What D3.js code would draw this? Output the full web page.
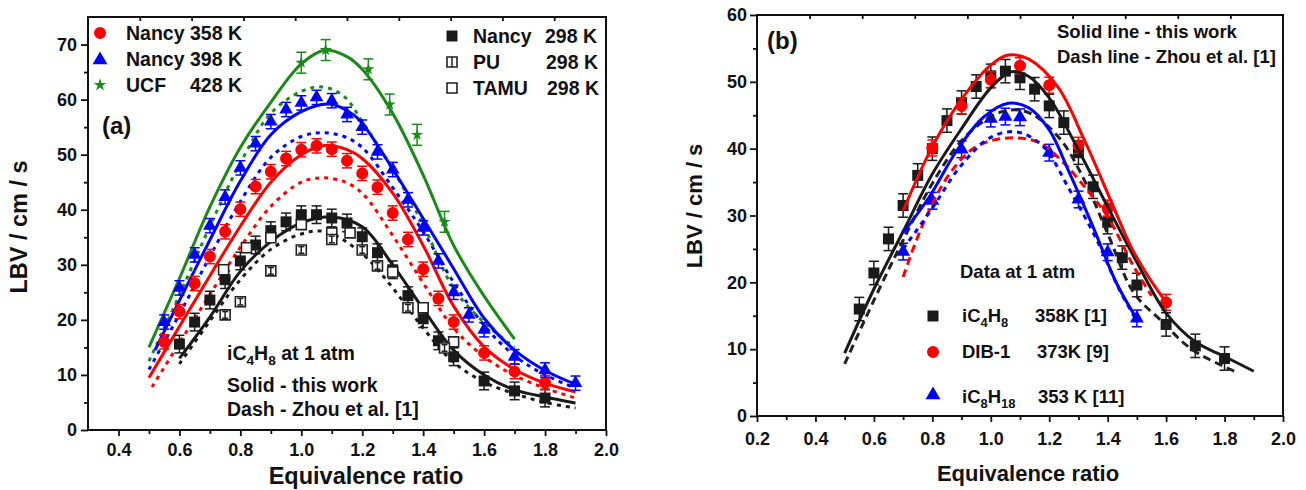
<!doctype html>
<html>
<head>
<meta charset="utf-8">
<title>LBV vs equivalence ratio</title>
<script src="https://cdn.jsdelivr.net/npm/d3@7"></script>
<style>
  body { margin: 0; background: #fff; }
  svg text { font-family: "Liberation Sans", Arial, sans-serif; font-weight: bold; fill: #111; }
  .axis text { font-size: 18px; }
  .axis line { stroke: #111; stroke-width: 1.8; }
  .axis .domain { display: none; }
</style>
</head>
<body>
<svg id="chart" width="1306" height="490"></svg>
<script>
// ---------- panel (a) : measured points [phi, LBV] ----------
var nancy358 = [[0.55,16],[0.6,21.5],[0.65,26.6],[0.7,31.5],[0.75,36],[0.8,40.1],[0.85,44.2],[0.9,46.9],[0.95,49.3],[1.0,50.9],[1.05,51.6],[1.1,51],[1.15,48.9],[1.2,46.6],[1.25,44.1],[1.3,39.4],[1.35,34.6],[1.4,29.2],[1.45,23.9],[1.5,19.6],[1.6,14],[1.7,10.6],[1.8,8.6]];
var nancy398 = [[0.55,19.6],[0.6,25.8],[0.65,31.8],[0.7,37.1],[0.75,42.3],[0.8,47.6],[0.85,52],[0.9,56],[0.95,58.2],[1.0,59.4],[1.05,60.4],[1.1,59.8],[1.15,57.3],[1.2,55],[1.25,50.5],[1.3,47.3],[1.35,41.8],[1.4,36.7],[1.45,30.7],[1.5,25],[1.55,20.9],[1.6,18.2],[1.7,13.3],[1.8,10.9],[1.9,8.5]];
var ucf428 = [[1.0,66.7],[1.08,69],[1.22,65.5],[1.29,59.1],[1.38,53.6],[1.47,37.8]];
var nancy298 = [[0.6,15.6],[0.65,19.6],[0.7,23.6],[0.75,27.3],[0.8,30.7],[0.85,33.6],[0.9,36.2],[0.95,37.8],[1.0,39.1],[1.05,39.1],[1.1,38.5],[1.15,37.6],[1.2,35.1],[1.25,32.2],[1.3,29.1],[1.35,24.4],[1.4,20.2],[1.45,16.2],[1.5,13.3],[1.6,8.9],[1.7,7.1],[1.8,5.8]];
var pu298 = [[0.75,20.9],[0.8,23.3],[0.9,28.9],[1.0,32.7],[1.1,34.6],[1.2,32.7],[1.25,29.8],[1.35,22.2],[1.47,14.9]];
var tamu298 = [[0.745,29.1],[0.82,33.1],[0.9,34.9],[1.0,37.3],[1.1,35.8],[1.16,35.8],[1.3,28.7],[1.4,22.2],[1.5,16]];

// panel (a) : model curves (solid = this work, dotted = Zhou et al.)
var fit358 = [[0.5,9.5],[0.6,18.8],[0.7,28],[0.8,37],[0.9,45],[1.0,50],[1.08,51.7],[1.15,50.9],[1.2,49.3],[1.3,43],[1.4,33.5],[1.5,22.5],[1.6,15.1],[1.7,11],[1.8,8.5],[1.9,6.9]];
var zhou358 = [[0.51,7.8],[0.6,15.8],[0.7,24.6],[0.8,33.2],[0.9,40.6],[1.0,45],[1.07,45.8],[1.14,45.1],[1.2,43],[1.3,35.3],[1.4,26.7],[1.5,18.5],[1.6,13.3],[1.7,9.9],[1.8,7.6],[1.9,5.8]];
var fit398 = [[0.52,14.5],[0.6,23.5],[0.7,34.5],[0.8,45.2],[0.9,53.6],[1.0,57.8],[1.09,59.2],[1.17,57.3],[1.2,55.7],[1.3,47.4],[1.4,38.4],[1.5,29.3],[1.6,20.3],[1.7,14.5],[1.8,10.8],[1.9,8.3]];
var zhou398 = [[0.5,11],[0.6,21],[0.7,31.5],[0.8,41.5],[0.9,49.5],[1.0,53.3],[1.07,54],[1.14,53.3],[1.2,51.3],[1.3,44],[1.4,36],[1.5,26.8],[1.6,19],[1.7,13.5],[1.8,10],[1.9,7.6]];
var fit428 = [[0.5,15],[0.6,27.5],[0.7,40.5],[0.8,51.3],[0.9,59.5],[1.0,66.5],[1.08,69],[1.15,67.8],[1.2,65.5],[1.3,57.5],[1.4,46.3],[1.5,33.5],[1.6,24.3],[1.7,16.5]];
var zhou428 = [[0.5,12.5],[0.6,24.5],[0.7,37],[0.8,48.5],[0.9,57.5],[1.0,61.5],[1.07,62.3],[1.14,60.6],[1.2,56],[1.3,47.3],[1.4,37.3],[1.5,25.7],[1.6,19.5],[1.7,15]];
var fit298 = [[0.6,13],[0.7,20.5],[0.8,28.8],[0.9,34.2],[1.0,37.6],[1.1,38.7],[1.2,36.9],[1.3,30],[1.4,22],[1.5,14.5],[1.6,10],[1.7,7.3],[1.8,6],[1.9,4.9]];
var zhou298 = [[0.6,12],[0.7,19.8],[0.8,27.3],[0.9,32.8],[1.0,35.6],[1.08,36],[1.2,32],[1.3,25.8],[1.4,18.5],[1.5,12.3],[1.6,8.7],[1.7,6.6],[1.8,5],[1.9,4]];

// ---------- panel (b) ----------
var ic4h8_358 = [[0.55,16],[0.6,21.4],[0.65,26.5],[0.7,31.5],[0.75,36],[0.8,40],[0.85,44.2],[0.9,46.9],[0.95,49.3],[1.0,50.9],[1.05,51.6],[1.1,50.6],[1.15,48.9],[1.2,46.4],[1.25,43.9],[1.3,39.4],[1.35,34.3],[1.4,29],[1.45,23.7],[1.5,19.6],[1.6,13.7],[1.7,10.5],[1.8,8.6]];
var dib1_373 = [[0.8,40.1],[0.9,46.4],[1.0,50.3],[1.1,52.4],[1.2,49.5],[1.3,40.5],[1.4,31.1],[1.6,17]];
var ic8h18_353 = [[0.7,24.6],[0.8,32.2],[0.9,39.9],[1.0,44.5],[1.05,44.8],[1.1,44.7],[1.2,39.4],[1.3,32.4],[1.4,24.5],[1.5,14.6]];

var fitB_ic4h8 = [[0.5,9.4],[0.6,19],[0.7,27.6],[0.8,36.2],[0.9,43],[1.0,49.1],[1.07,51.5],[1.13,50.8],[1.2,47.6],[1.3,39.8],[1.4,31.3],[1.5,23],[1.6,15.4],[1.7,11.1],[1.8,8.9],[1.9,6.7]];
var zhouB_ic4h8 = [[0.5,7.8],[0.6,17.3],[0.7,26.3],[0.8,34.8],[0.9,41.2],[1.0,44.8],[1.07,45.8],[1.14,45.2],[1.24,41.3],[1.32,35.3],[1.4,27.3],[1.49,18.4],[1.58,14.4],[1.69,9.9],[1.84,6.6]];
var fitB_dib1 = [[0.7,30.7],[0.8,40.3],[0.9,47.4],[1.0,52.5],[1.06,54],[1.13,53.4],[1.23,49.2],[1.32,41.3],[1.41,32.3],[1.48,25.3],[1.54,20.8],[1.6,17]];
var zhouB_dib1 = [[0.7,20.8],[0.77,28.9],[0.86,36.3],[0.95,40.3],[1.06,41.6],[1.16,41],[1.24,38.3],[1.33,33.8],[1.4,29.8],[1.49,22.3],[1.55,18]];
var fitB_ic8h18 = [[0.7,27.4],[0.79,32.8],[0.885,39.8],[0.975,44.7],[1.06,46.8],[1.13,46.1],[1.2,42.8],[1.27,36.3],[1.35,28.3],[1.43,19.9],[1.5,14.5]];
var zhouB_ic8h18 = [[0.7,25],[0.8,31.1],[0.895,37.3],[1.0,41.7],[1.09,42.5],[1.18,40.3],[1.27,33.8],[1.36,26.6],[1.44,18.9],[1.5,14.2]];

// axis ticks
var xMajorA = [0.4,0.6,0.8,1.0,1.2,1.4,1.6,1.8,2.0];
var xMinorA = [0.5,0.7,0.9,1.1,1.3,1.5,1.7,1.9];
var yMajorA = [0,10,20,30,40,50,60,70];
var yMinorA = [5,15,25,35,45,55,65];
var xMajorB = [0.2,0.4,0.6,0.8,1.0,1.2,1.4,1.6,1.8,2.0];
var xMinorB = [0.3,0.5,0.7,0.9,1.1,1.3,1.5,1.7,1.9];
var yMajorB = [0,10,20,30,40,50,60];
var yMinorB = [5,15,25,35,45,55];

var RED = "#ff0000", BLUE = "#0000ff", GREEN = "#1b8a1b", BLACK = "#1a1a1a";

var svg = d3.select("#chart");
svg.append("rect").attr("width", 1306).attr("height", 490).attr("fill", "#fff");

function makePanel(p) {
  var g = svg.append("g");
  var x = d3.scaleLinear().domain(p.xDomain).range([p.left, p.right]);
  var y = d3.scaleLinear().domain(p.yDomain).range([p.bottom, p.top]);

  g.append("g").attr("class", "axis").attr("transform", "translate(0," + p.bottom + ")")
    .call(d3.axisBottom(x).tickValues(p.xMinor).tickSize(4).tickFormat(""));
  g.append("g").attr("class", "axis").attr("transform", "translate(0," + p.bottom + ")")
    .call(d3.axisBottom(x).tickValues(p.xMajor).tickSize(6).tickPadding(p.xPad).tickFormat(d3.format(".1f")));
  g.append("g").attr("class", "axis").attr("transform", "translate(" + p.left + ",0)")
    .call(d3.axisLeft(y).tickValues(p.yMinor).tickSize(4).tickFormat(""));
  g.append("g").attr("class", "axis").attr("transform", "translate(" + p.left + ",0)")
    .call(d3.axisLeft(y).tickValues(p.yMajor).tickSize(7).tickPadding(p.yPad).tickFormat(d3.format("d")));
  // small inward ticks on the top border, ten divisions
  var d0 = p.xDomain[0], d1 = p.xDomain[1];
  g.append("g").attr("class", "axis").attr("transform", "translate(0," + p.top + ")")
    .call(d3.axisTop(x).tickValues(d3.range(1, 10).map(function(i) { return d0 + i * (d1 - d0) / 10; }))
      .tickSize(-4).tickFormat(""));

  g.append("rect")
    .attr("x", p.left).attr("y", p.top)
    .attr("width", p.right - p.left).attr("height", p.bottom - p.top)
    .attr("fill", "none").attr("stroke", "#111").attr("stroke-width", 2);

  g.append("text").attr("x", p.xLabel[0]).attr("y", p.xLabel[1])
    .attr("text-anchor", "middle").style("font-size", p.labelSize + "px").text("Equivalence ratio");
  g.append("text").attr("transform", "translate(" + p.yLabel[0] + "," + p.yLabel[1] + ") rotate(-90)")
    .attr("text-anchor", "middle").style("font-size", p.labelSize + "px").text("LBV / cm / s");

  return { g: g, x: x, y: y };
}

function drawCurve(P, data, color, dash) {
  var line = d3.line()
    .x(function(d) { return P.x(d[0]); })
    .y(function(d) { return P.y(d[1]); })
    .curve(d3.curveCatmullRom.alpha(0.5));
  P.g.append("path").datum(data)
    .attr("d", line)
    .attr("fill", "none")
    .attr("stroke", color)
    .attr("stroke-width", 3)
    .attr("stroke-dasharray", dash || null);
}

function errorBars(P, data, err, color, cap) {
  var eb = P.g.append("g").attr("stroke", color).attr("stroke-width", 1.5);
  data.forEach(function(d) {
    var cx = P.x(d[0]), y0 = P.y(d[1] - err), y1 = P.y(d[1] + err);
    eb.append("line").attr("x1", cx).attr("x2", cx).attr("y1", y0).attr("y2", y1);
    eb.append("line").attr("x1", cx - cap).attr("x2", cx + cap).attr("y1", y0).attr("y2", y0);
    eb.append("line").attr("x1", cx - cap).attr("x2", cx + cap).attr("y1", y1).attr("y2", y1);
  });
}

function marker(g, type, size, color, cx, cy, hollow) {
  var path = g.append("path")
    .attr("d", d3.symbol().type(type).size(size)())
    .attr("transform", "translate(" + cx + "," + cy + ")");
  if (hollow) path.attr("fill", "#fff").attr("stroke", color).attr("stroke-width", 1.6);
  else path.attr("fill", color);
  return path;
}

function drawPoints(P, data, type, size, color, hollow) {
  data.forEach(function(d) {
    marker(P.g, type, size, color, P.x(d[0]), P.y(d[1]), hollow);
  });
}

function chemText(g, x, y, parts, size) {
  var t = g.append("text").attr("x", x).attr("y", y).style("font-size", size + "px");
  var sub = false;
  parts.forEach(function(s, i) {
    var isSub = /^[0-9]+$/.test(s) && i > 0;
    var ts = t.append("tspan").text(s);
    if (isSub && !sub) ts.attr("dy", 5).style("font-size", (size * 0.7) + "px");
    else if (isSub) ts.style("font-size", (size * 0.7) + "px");
    else if (sub) ts.attr("dy", -5);
    sub = isSub;
  });
  return t;
}

// ================= panel (a) =================
var A = makePanel({
  left: 88, right: 606, top: 17, bottom: 430,
  xDomain: [0.3, 2.0], yDomain: [0, 75],
  xMajor: xMajorA, xMinor: xMinorA, yMajor: yMajorA, yMinor: yMinorA,
  xPad: 7, yPad: 4, labelSize: 23.5,
  xLabel: [366, 484], yLabel: [27, 227]
});

drawCurve(A, zhou298, BLACK, "4,5");
drawCurve(A, zhou358, RED, "4,5");
drawCurve(A, zhou398, BLUE, "4,5");
drawCurve(A, zhou428, GREEN, "4,5");
drawCurve(A, fit298, BLACK);
drawCurve(A, fit358, RED);
drawCurve(A, fit398, BLUE);
drawCurve(A, fit428, GREEN);

errorBars(A, nancy298, 1.6, BLACK, 5);
drawPoints(A, nancy298, d3.symbolSquare, 121, BLACK);
drawPoints(A, tamu298, d3.symbolSquare, 100, "#222", true);
drawPoints(A, pu298, d3.symbolSquare, 100, "#222", true);
errorBars(A, pu298, 0.6, "#222", 3);
errorBars(A, nancy358, 1.3, RED, 5);
drawPoints(A, nancy358, d3.symbolCircle, 113, RED);
errorBars(A, nancy398, 1.3, BLUE, 5);
drawPoints(A, nancy398, d3.symbolTriangle, 80, BLUE);
errorBars(A, ucf428, 1.9, GREEN, 5);
drawPoints(A, ucf428, d3.symbolStar, 45, GREEN);

// legend (a)
var legA = A.g.append("g");
marker(legA, d3.symbolCircle, 113, RED, 100, 33);
marker(legA, d3.symbolTriangle, 95, BLUE, 100, 60);
marker(legA, d3.symbolStar, 50, GREEN, 100, 85);
legA.append("text").attr("x", 126).attr("y", 40).style("font-size", "19.5px").text("Nancy 358 K");
legA.append("text").attr("x", 126).attr("y", 66).style("font-size", "19.5px").text("Nancy 398 K");
legA.append("text").attr("x", 126).attr("y", 92).style("font-size", "19.5px").text("UCF");
legA.append("text").attr("x", 190).attr("y", 92).style("font-size", "19.5px").text("428 K");

marker(legA, d3.symbolSquare, 121, BLACK, 452, 36);
marker(legA, d3.symbolSquare, 100, "#222", 452, 62, true);
legA.append("line").attr("x1", 452).attr("x2", 452).attr("y1", 57).attr("y2", 67).attr("stroke", "#222").attr("stroke-width", 1.5);
marker(legA, d3.symbolSquare, 100, "#222", 452, 88, true);
[["Nancy", 43], ["PU", 69], ["TAMU", 95]].forEach(function(r, i) {
  legA.append("text").attr("x", 473).attr("y", r[1]).style("font-size", "19.5px").text(r[0]);
  legA.append("text").attr("x", 597 + i).attr("y", r[1]).attr("text-anchor", "end").style("font-size", "19.5px").text("298 K");
});

A.g.append("text").attr("x", 102).attr("y", 134).style("font-size", "24px").text("(a)");
chemText(A.g, 227, 360, ["iC", "4", "H", "8", " at 1 atm"], 19.5);
A.g.append("text").attr("x", 227).attr("y", 392).style("font-size", "19.5px").text("Solid - this work");
A.g.append("text").attr("x", 227).attr("y", 416).style("font-size", "19.5px").text("Dash - Zhou et al. [1]");

// ================= panel (b) =================
var B = makePanel({
  left: 757, right: 1283, top: 15, bottom: 416,
  xDomain: [0.2, 2.0], yDomain: [0, 60],
  xMajor: xMajorB, xMinor: xMinorB, yMajor: yMajorB, yMinor: yMinorB,
  xPad: 10, yPad: 3, labelSize: 22,
  xLabel: [1028, 481], yLabel: [702, 206]
});

errorBars(B, ic4h8_358, 1.75, BLACK, 5);
drawPoints(B, ic4h8_358, d3.symbolSquare, 121, BLACK);
errorBars(B, dib1_373, 1.2, RED, 5);
drawPoints(B, dib1_373, d3.symbolCircle, 113, RED);
errorBars(B, ic8h18_353, 1.25, BLUE, 5);
drawPoints(B, ic8h18_353, d3.symbolTriangle, 85, BLUE);

drawCurve(B, zhouB_ic4h8, "#222", "8,5");
drawCurve(B, zhouB_dib1, RED, "8,5");
drawCurve(B, zhouB_ic8h18, BLUE, "5,5");
drawCurve(B, fitB_ic4h8, BLACK);
drawCurve(B, fitB_dib1, RED);
drawCurve(B, fitB_ic8h18, BLUE);

B.g.append("text").attr("x", 767).attr("y", 49).style("font-size", "24px").text("(b)");
B.g.append("text").attr("x", 1057).attr("y", 38).style("font-size", "18.5px").text("Solid line - this work");
B.g.append("text").attr("x", 1057).attr("y", 63).style("font-size", "18.5px").text("Dash line - Zhou et al. [1]");

var legB = B.g.append("g");
legB.append("text").attr("x", 960).attr("y", 278).style("font-size", "18.5px").text("Data at 1 atm");
marker(legB, d3.symbolSquare, 121, BLACK, 933, 316);
marker(legB, d3.symbolCircle, 113, RED, 933, 352);
marker(legB, d3.symbolTriangle, 95, BLUE, 933, 395);
chemText(legB, 962, 322, ["iC", "4", "H", "8"], 18.5);
legB.append("text").attr("x", 1035).attr("y", 322).style("font-size", "18.5px").text("358K [1]");
legB.append("text").attr("x", 962).attr("y", 358).style("font-size", "18.5px").text("DIB-1");
legB.append("text").attr("x", 1037).attr("y", 358).style("font-size", "18.5px").text("373K [9]");
chemText(legB, 962, 403, ["iC", "8", "H", "18"], 18.5);
legB.append("text").attr("x", 1038).attr("y", 403).style("font-size", "18.5px").text("353 K [11]");
</script>
</body>
</html>
